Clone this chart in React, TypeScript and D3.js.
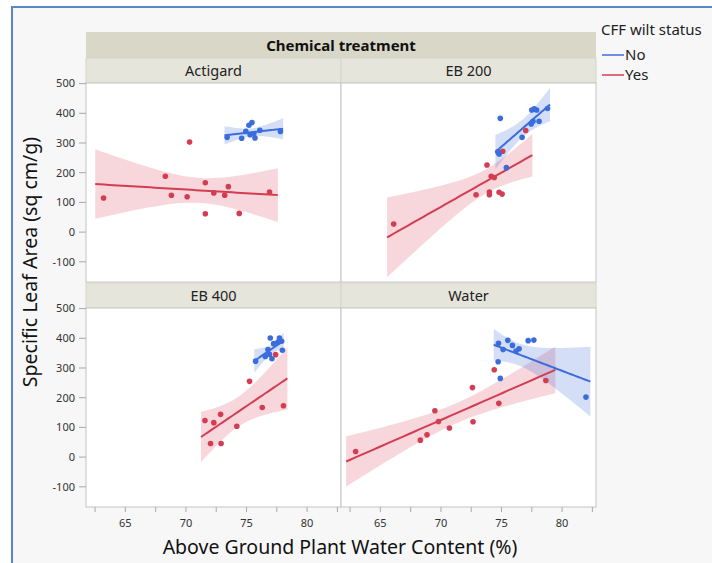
import * as d3 from 'd3';

type Pt = [number, number];

const panelNames = ['Actigard', 'EB 200', 'EB 400', 'Water'];
const groupNames = ['No', 'Yes'];

// [water content %, specific leaf area]
const actigardNo: Pt[] = [
  [73.4, 319], [74.6, 316], [74.95, 339], [75.2, 360], [75.45, 369],
  [75.3, 328], [75.6, 331], [75.7, 317], [76.1, 343], [77.8, 339],
];
const actigardYes: Pt[] = [
  [63.2, 115], [68.3, 188], [70.3, 303], [68.8, 124], [70.1, 119], [71.6, 166],
  [71.6, 62], [72.3, 132], [73.2, 124], [73.5, 153], [74.4, 63], [76.9, 135],
];
const eb200No: Pt[] = [
  [74.9, 383], [74.7, 270], [74.8, 263], [75.4, 217], [76.7, 319], [77.45, 364],
  [77.6, 373], [78.1, 373], [77.5, 411], [77.9, 411], [77.7, 415], [78.8, 416],
];
const eb200Yes: Pt[] = [
  [66.1, 27], [72.9, 126], [73.8, 226], [74.0, 135], [74.0, 126], [74.15, 188],
  [74.4, 184], [74.8, 134], [75.05, 128], [75.1, 272], [77.0, 342],
];
const eb400No: Pt[] = [
  [75.75, 323], [76.55, 339], [76.77, 362], [76.96, 401], [77.1, 331], [77.24, 382],
  [76.9, 346], [77.72, 401], [77.9, 390], [77.96, 360], [77.6, 387],
];
const eb400Yes: Pt[] = [
  [71.57, 123], [72.3, 116], [72.86, 144], [72.03, 46], [72.9, 46],
  [74.2, 104], [75.25, 255], [76.3, 167], [77.4, 345], [78.05, 173],
];
const waterNo: Pt[] = [
  [74.75, 383], [75.13, 362], [75.52, 393], [75.9, 376], [76.2, 357], [76.45, 365],
  [77.2, 392], [77.67, 394], [74.72, 321], [74.9, 265], [81.97, 202],
];
const waterYes: Pt[] = [
  [62.96, 19], [68.3, 57], [68.85, 75], [69.5, 156], [69.8, 120], [70.7, 98],
  [72.6, 234], [72.65, 119], [74.4, 294], [74.78, 181], [78.66, 258],
];

const panelData: Pt[][][] = [
  [actigardNo, actigardYes],
  [eb200No, eb200Yes],
  [eb400No, eb400Yes],
  [waterNo, waterYes],
];

const xTicks = [62.5, 65, 67.5, 70, 72.5, 75, 77.5, 80, 82.5];
const xLabels = [65, 70, 75, 80];
const yTicks = [-100, 0, 100, 200, 300, 400, 500];

const colors = ['#3b6cdc', '#d43d51'];
const bandColors = ['#3b6cdc', '#d9485a'];
const font = '"Noto Sans", "Open Sans", sans-serif';

const cols: [number, number][] = [[86, 341], [341, 596]];
const rows: [number, number][] = [[83, 282], [308, 507]];

// two-sided 95% t quantiles by degrees of freedom
const tTable = [12.706, 4.303, 3.182, 2.776, 2.571, 2.447, 2.365, 2.306, 2.262, 2.228,
  2.201, 2.179, 2.16, 2.145, 2.131, 2.12, 2.11, 2.101, 2.093, 2.086];

function fit(pts: Pt[]) {
  const n = pts.length;
  const xm = d3.mean(pts, d => d[0])!;
  const ym = d3.mean(pts, d => d[1])!;
  const sxx = d3.sum(pts, d => (d[0] - xm) ** 2);
  const sxy = d3.sum(pts, d => (d[0] - xm) * (d[1] - ym));
  const b = sxy / sxx;
  const a = ym - b * xm;
  const sse = d3.sum(pts, d => (d[1] - a - b * d[0]) ** 2);
  const s = Math.sqrt(sse / (n - 2));
  const t = tTable[Math.min(n - 3, tTable.length - 1)];
  const [x0, x1] = d3.extent(pts, d => d[0]) as [number, number];
  const pad = (x1 - x0) * 0.05;
  const xs = d3.range(41).map(i => x0 - pad + ((x1 - x0 + 2 * pad) * i) / 40);
  return xs.map(x => {
    const yh = a + b * x;
    const half = t * s * Math.sqrt(1 / n + (x - xm) ** 2 / sxx);
    return { x, y: yh, lo: yh - half, hi: yh + half };
  });
}

function Panel({ idx }: { idx: number }) {
  const [px0, px1] = cols[idx % 2];
  const [py0, py1] = rows[Math.floor(idx / 2)];
  const x = d3.scaleLinear().domain([61.75, 82.8]).range([px0, px1]);
  const y = d3.scaleLinear().domain([-168, 502]).range([py1, py0]);
  const area = d3.area<{ x: number; lo: number; hi: number }>()
    .x(d => x(d.x)).y0(d => y(d.lo)).y1(d => y(d.hi));
  const line = d3.line<{ x: number; y: number }>().x(d => x(d.x)).y(d => y(d.y));
  const clipId = `clip${idx}`;
  const groups = panelData[idx];
  const fits = groups.map(fit);
  return (
    <g>
      <rect x={px0} y={py0 - 25} width={px1 - px0} height={25} fill="#e6e5db" stroke="#d6d5cb" strokeWidth={1} />
      <text x={(px0 + px1) / 2} y={py0 - 7.5} textAnchor="middle" fontSize={14.5} fill="#222">{panelNames[idx]}</text>
      <rect x={px0} y={py0} width={px1 - px0} height={py1 - py0} fill="#fff" stroke="#c4c4c4" strokeWidth={1} />
      <clipPath id={clipId}>
        <rect x={px0} y={py0} width={px1 - px0} height={py1 - py0} />
      </clipPath>
      <g clipPath={`url(#${clipId})`}>
        {[1, 0].map(g => (
          <path key={'b' + g} d={area(fits[g])!} fill={bandColors[g]} fillOpacity={0.22} />
        ))}
        {[1, 0].map(g => (
          <path key={'l' + g} d={line(fits[g])!} fill="none" stroke={colors[g]} strokeWidth={2} />
        ))}
        {[1, 0].map(g =>
          groups[g].map((p, i) => (
            <circle key={`p${g}-${i}`} cx={x(p[0])} cy={y(p[1])} r={2.8} fill={colors[g]} />
          ))
        )}
      </g>
    </g>
  );
}

export default function App() {
  const x = (c: number) => d3.scaleLinear().domain([61.75, 82.8]).range(cols[c]);
  const y = (r: number) => d3.scaleLinear().domain([-168, 502]).range([rows[r][1], rows[r][0]]);
  return (
    <svg width={712} height={563} style={{ position: 'absolute', left: 0, top: 0 }} fontFamily={font}>
      <rect width={712} height={563} fill="#fff" />
      <rect x={12} y={7} width={700} height={556} fill="#f7f7f7" />
      <line x1={11} y1={7} x2={712} y2={7} stroke="#5a86c6" strokeWidth={2} />
      <line x1={12} y1={7} x2={12} y2={563} stroke="#5a86c6" strokeWidth={2} />

      <rect x={86} y={32} width={510} height={26} fill="#d9d7c8" />
      <text x={341} y={50.5} textAnchor="middle" fontSize={15} fontWeight="bold" fill="#111">Chemical treatment</text>

      {panelNames.map((_, i) => <Panel key={i} idx={i} />)}

      {rows.map((_, r) => (
        <g key={'y' + r}>
          {yTicks.map(t => (
            <g key={t} transform={`translate(0,${y(r)(t)})`}>
              <line x1={79} x2={86} stroke="#a8a8a8" />
              <text x={75} dy="0.35em" textAnchor="end" fontSize={11} fill="#333">{t}</text>
            </g>
          ))}
        </g>
      ))}

      {cols.map((_, c) => (
        <g key={'x' + c}>
          {xTicks.map(t => (
            <line key={t} x1={x(c)(t)} x2={x(c)(t)} y1={507} y2={512} stroke="#a8a8a8" />
          ))}
          {xLabels.map(t => (
            <text key={'l' + t} x={x(c)(t)} y={527} textAnchor="middle" fontSize={11} fill="#333">{t}</text>
          ))}
        </g>
      ))}

      <text x={340} y={554} textAnchor="middle" fontSize={19.5} fill="#111">Above Ground Plant Water Content (%)</text>
      <text transform="translate(37,262) rotate(-90)" textAnchor="middle" fontSize={19.5} fill="#111">Specific Leaf Area (sq cm/g)</text>

      <text x={601} y={35} fontSize={15} fill="#222">CFF wilt status</text>
      {groupNames.map((g, i) => (
        <g key={g} transform={`translate(0,${55 + i * 20})`}>
          <line x1={602} x2={624} stroke={colors[i]} strokeWidth={1.5} />
          <text x={625} dy="0.35em" fontSize={15} fill="#222">{g}</text>
        </g>
      ))}
    </svg>
  );
}
